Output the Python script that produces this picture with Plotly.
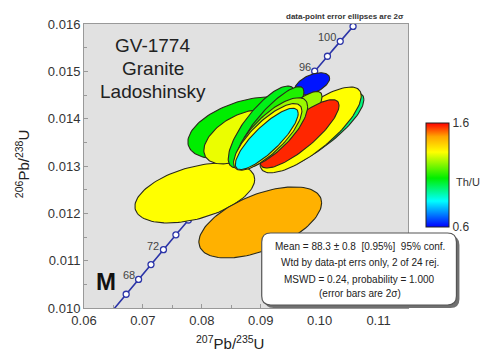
import numpy as np
import plotly.graph_objects as go
from plotly.colors import sample_colorscale

# ---------------- data ----------------
# 207Pb/235U, 2s error, 206Pb/238U, 2s error, error correlation, Th/U
pb207_u235 = [0.07881, 0.08992, 0.08712, 0.08661, 0.09797, 0.09881, 0.09847, 0.09873,
              0.09017, 0.09186, 0.09492, 0.09661, 0.09186, 0.09119, 0.09102]
err_207 = [0.01017, 0.01042, 0.00949, 0.00627, 0.00759, 0.00871, 0.00859, 0.00297,
           0.00569, 0.00547, 0.00549, 0.00669, 0.00610, 0.00580, 0.00534]
pb206_u238 = [0.012431, 0.011808, 0.013805, 0.013615, 0.013510, 0.013721, 0.013763, 0.014736,
              0.013827, 0.013932, 0.013890, 0.013679, 0.013700, 0.013615, 0.013573]
err_206 = [0.000634, 0.000751, 0.000655, 0.000571, 0.000613, 0.000836, 0.000907, 0.000233,
           0.000862, 0.000746, 0.000685, 0.000722, 0.000743, 0.000704, 0.000648]
err_rho = [0.45, 0.55, 0.45, 0.50, 0.88, 0.815, 0.79, 0.50,
           0.78, 0.85, 0.84, 0.83, 0.745, 0.78, 0.83]
th_u = [1.32, 1.45, 1.07, 1.30, 1.32, 0.96, 1.32, 0.62,
        1.05, 1.10, 1.22, 1.57, 1.22, 1.32, 0.85]

concordia_marker_ages = [66, 68, 70, 72, 74, 76, 78, 80, 82, 84, 86, 88, 90, 92, 94, 96, 98, 100, 102]
concordia_label_ages = [68, 72, 96, 100]
x_ticks = [0.06, 0.07, 0.08, 0.09, 0.10, 0.11]
y_ticks = [0.010, 0.011, 0.012, 0.013, 0.014, 0.015, 0.016]
thu_range = [0.6, 1.6]

info_lines = ["Mean = 88.3 \u00b1 0.8  [0.95%]  95% conf.",
              "Wtd by data-pt errs only, 2 of 24 rej.",
              "MSWD = 0.24, probability = 1.000",
              "(error bars are 2\u03c3)"]

# ---------------- helpers ----------------
L238 = 1.55125e-4   # per Ma
L235 = 9.8485e-4


def concordia(t):
    t = np.asarray(t, dtype=float)
    return np.exp(L235 * t) - 1.0, np.exp(L238 * t) - 1.0


colorscale = [[0.0, "rgb(0,0,255)"], [0.25, "rgb(0,255,255)"], [0.47, "rgb(0,238,0)"],
              [0.72, "rgb(255,255,0)"], [0.87, "rgb(255,165,0)"], [1.0, "rgb(255,0,0)"]]

FONT = "Arial, Liberation Sans, sans-serif"
fig = go.Figure()

# concordia line
tt = np.linspace(62, 106, 300)
cx, cy = concordia(tt)
fig.add_trace(go.Scatter(x=cx, y=cy, mode="lines", line=dict(color="#2b34a8", width=1.6),
                         hoverinfo="skip", showlegend=False))
mx, my = concordia(concordia_marker_ages)
fig.add_trace(go.Scatter(x=mx, y=my, mode="markers",
                         marker=dict(size=6, color="white", line=dict(color="#2b34a8", width=1.3)),
                         hoverinfo="skip", showlegend=False, cliponaxis=True))

# error ellipses
th = np.linspace(0, 2 * np.pi, 120)
for x0, ex, y0, ey, r, tu in zip(pb207_u235, err_207, pb206_u238, err_206, err_rho, th_u):
    xs = x0 + ex * np.cos(th)
    ys = y0 + ey * (r * np.cos(th) + np.sqrt(1 - r * r) * np.sin(th))
    col = sample_colorscale(colorscale, [(tu - thu_range[0]) / (thu_range[1] - thu_range[0])])[0]
    fig.add_trace(go.Scatter(x=xs, y=ys, mode="lines", fill="toself", fillcolor=col,
                             line=dict(color="#2a2a1a", width=1.1), hoverinfo="skip",
                             showlegend=False))

# colour bar
fig.add_trace(go.Scatter(x=[None], y=[None], mode="markers",
                         marker=dict(color=[thu_range[0]], cmin=thu_range[0], cmax=thu_range[1],
                                     colorscale=colorscale, showscale=True,
                                     colorbar=dict(x=1.057, xanchor="left", y=0.468, yanchor="middle",
                                                   len=104, lenmode="pixels", thickness=23,
                                                   thicknessmode="pixels", outlinewidth=1,
                                                   outlinecolor="#222", tickvals=thu_range,
                                                   ticktext=[str(v) for v in thu_range], ticks="",
                                                   tickfont=dict(family=FONT, size=12, color="#333"),
                                                   xpad=0, ypad=0)),
                         hoverinfo="skip", showlegend=False))

annotations = []
# age labels
lx, ly = concordia(concordia_label_ages)
for a, xx, yy in zip(concordia_label_ages, lx, ly):
    annotations.append(dict(x=xx, y=yy, xref="x", yref="y", text=str(a), showarrow=False,
                            xanchor="right", yanchor="bottom", xshift=-2, yshift=-4,
                            font=dict(family=FONT, size=11, color="#444")))

# sample title
for txt, yp in zip(["GV-1774", "Granite", "Ladoshinsky"], [0.926, 0.843, 0.762]):
    annotations.append(dict(x=0.2126, y=yp, xref="paper", yref="paper", text=txt, showarrow=False,
                            xanchor="center", yanchor="middle",
                            font=dict(family=FONT, size=19, color="#222")))
annotations.append(dict(x=0.0678, y=0.094, xref="paper", yref="paper", text="<b>M</b>",
                        showarrow=False, xanchor="center", yanchor="middle",
                        font=dict(family=FONT, size=24, color="#111")))
annotations.append(dict(x=0.995, y=1.027, xref="paper", yref="paper",
                        text="<b>data-point error ellipses are 2\u03c3</b>", showarrow=False,
                        xanchor="right", yanchor="middle",
                        font=dict(family=FONT, size=8, color="#333")))
# axis titles
annotations.append(dict(x=0.45, y=-0.12, xref="paper", yref="paper",
                        text="<sup>207</sup>Pb/<sup>235</sup>U", showarrow=False,
                        xanchor="center", yanchor="middle", font=dict(family=FONT, size=15, color="#222")))
annotations.append(dict(x=-0.191, y=0.507, xref="paper", yref="paper",
                        text="<sup>206</sup>Pb/<sup>238</sup>U", showarrow=False, textangle=-90,
                        xanchor="center", yanchor="middle", font=dict(family=FONT, size=15, color="#222")))
# Th/U
annotations.append(dict(x=1.143, y=0.443, xref="paper", yref="paper", text="Th/U", showarrow=False,
                        xanchor="left", yanchor="middle", font=dict(family=FONT, size=11, color="#333")))
# info box text
for txt, yp in zip(info_lines, [0.2183, 0.1585, 0.1021, 0.0493]):
    annotations.append(dict(x=0.8505, y=yp, xref="paper", yref="paper", text=txt, showarrow=False,
                            xanchor="center", yanchor="middle",
                            font=dict(family=FONT, size=10, color="#222")))


def rounded_rect(x0, y0, x1, y1, rx, ry):
    return (f"M {x0+rx},{y0} L {x1-rx},{y0} Q {x1},{y0} {x1},{y0+ry} "
            f"L {x1},{y1-ry} Q {x1},{y1} {x1-rx},{y1} L {x0+rx},{y1} Q {x0},{y1} {x0},{y1-ry} "
            f"L {x0},{y0+ry} Q {x0},{y0} {x0+rx},{y0} Z")


bx0, bx1, by0, by1 = 0.5485, 1.1495, 0.0106, 0.2641
rx, ry = 9 / 324.5, 9 / 284
dx, dy = 3 / 324.5, 3 / 284
shapes = [
    dict(type="path", xref="paper", yref="paper", layer="above",
         path=rounded_rect(bx0 + dx, by0 - dy, bx1 + dx, by1 - dy, rx, ry),
         fillcolor="#707070", line=dict(width=0)),
    dict(type="path", xref="paper", yref="paper", layer="above",
         path=rounded_rect(bx0, by0, bx1, by1, rx, ry),
         fillcolor="white", line=dict(color="#555", width=1.2)),
]

axis_common = dict(showgrid=False, zeroline=False, showline=True, mirror=True, linecolor="#999",
                   linewidth=1, ticks="inside", ticklen=4, tickcolor="#999",
                   tickfont=dict(family=FONT, size=13, color="#333"))
fig.update_layout(
    width=480, height=354, margin=dict(l=84, r=71.5, t=24, b=46),
    paper_bgcolor="white", plot_bgcolor="#e1e1e1", showlegend=False,
    xaxis=dict(range=[0.06, 0.115], tickvals=x_ticks, ticktext=[f"{v:.2f}" for v in x_ticks],
               minor=dict(ticks="inside", dtick=0.005, ticklen=3, tickcolor="#999"), **axis_common),
    yaxis=dict(range=[0.010, 0.016], tickvals=y_ticks, ticktext=[f"{v:.3f}" for v in y_ticks],
               minor=dict(ticks="inside", dtick=0.0005, ticklen=3, tickcolor="#999"), **axis_common),
    annotations=annotations, shapes=shapes,
)
fig.write_html("out.html", config={"displayModeBar": False},
               post_script="document.body.style.margin='0';document.body.style.overflow='hidden';")
